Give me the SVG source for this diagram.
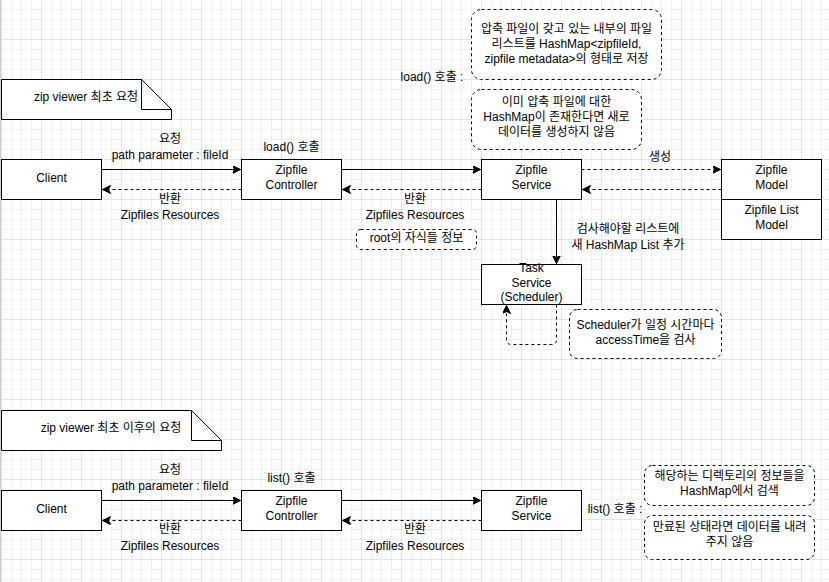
<svg xmlns="http://www.w3.org/2000/svg" width="829" height="582" viewBox="0 0 829 582">
<style>
text{font-family:"Liberation Sans","Noto Sans CJK KR",sans-serif;font-size:12px;fill:#000;text-anchor:middle}
.box{fill:#fff;stroke:#000;stroke-width:1}
.note{fill:#fff;stroke:#000;stroke-width:1;stroke-dasharray:3 3}
.line{fill:none;stroke:#000;stroke-width:1}
.dash{fill:none;stroke:#000;stroke-width:1;stroke-dasharray:3 3}
</style>
<defs>
<pattern id="grid" patternUnits="userSpaceOnUse" x="1" y="-1" width="40" height="40">
<path d="M10.5,0V40M20.5,0V40M30.5,0V40M0,10.5H40M0,20.5H40M0,30.5H40" stroke="#f1f1f1" stroke-width="1" fill="none"/>
<path d="M0.5,0V40M0,0.5H40" stroke="#e4e4e4" stroke-width="1" fill="none"/>
</pattern>
<marker id="arr" markerUnits="userSpaceOnUse" markerWidth="12" markerHeight="12" refX="8" refY="4" orient="auto">
<path d="M0,0L8,4L0,8L2,4Z" fill="#000" stroke="#000" stroke-width="1"/>
</marker>
</defs>
<rect width="829" height="582" fill="#fff"/>
<rect width="829" height="582" fill="url(#grid)"/>
<line x1="0.5" y1="0" x2="0.5" y2="582" stroke="#cfcfcf"/>

<g id="connectors">
<path class="line" d="M101.5,169.5H240.5" marker-end="url(#arr)"/>
<path class="dash" d="M241.5,189.5H102.5" marker-end="url(#arr)"/>
<path class="line" d="M341.5,169.5H480.5" marker-end="url(#arr)"/>
<path class="dash" d="M481.5,189.5H342.5" marker-end="url(#arr)"/>
<path class="dash" d="M581.5,169.5H720.5" marker-end="url(#arr)"/>
<path class="dash" d="M721.5,189.5H582.5" marker-end="url(#arr)"/>
<path class="line" d="M556.5,199.5V263.5" marker-end="url(#arr)"/>
<path class="dash" d="M556.5,304.5V339.5Q556.5,344.5 551.5,344.5H511.5Q506.5,344.5 506.5,339.5V305.5" marker-end="url(#arr)"/>
<path class="line" d="M101.5,500.5H240.5" marker-end="url(#arr)"/>
<path class="dash" d="M241.5,520.5H102.5" marker-end="url(#arr)"/>
<path class="line" d="M341.5,500.5H480.5" marker-end="url(#arr)"/>
<path class="dash" d="M481.5,520.5H342.5" marker-end="url(#arr)"/>
<text x="170" y="142.5">요청</text>
<text x="170" y="158.5">path parameter : fileId</text>
<text x="170" y="202.5">반환</text>
<text x="170" y="218.5">Zipfiles Resources</text>
<text x="415" y="202.5">반환</text>
<text x="415" y="218.5">Zipfiles Resources</text>
<text x="660" y="160.5">생성</text>
<text x="628" y="232.5">검사해야할 리스트에</text>
<text x="628" y="248.5">새 HashMap List 추가</text>
<text x="170" y="473.5">요청</text>
<text x="170" y="489.5">path parameter : fileId</text>
<text x="170" y="532.5">반환</text>
<text x="170" y="549.5">Zipfiles Resources</text>
<text x="415" y="532.5">반환</text>
<text x="415" y="549.5">Zipfiles Resources</text>
</g>

<g id="note-first">
<path class="box" d="M1.5,79.5H141.5L171.5,109.5V119.5H1.5Z"/>
<path class="line" d="M141.5,79.5V109.5H171.5"/>
<text x="86" y="100.5">zip viewer 최초 요청</text>
</g>
<g id="client1">
<rect class="box" x="1.5" y="159.5" width="100" height="40"/>
<text x="51.5" y="182">Client</text>
</g>
<g id="controller1">
<rect class="box" x="241.5" y="159.5" width="100" height="40"/>
<text x="291.5" y="174">Zipfile</text>
<text x="291.5" y="189">Controller</text>
<text x="291.5" y="150.5">load() 호출</text>
</g>
<g id="service1">
<rect class="box" x="481.5" y="159.5" width="100" height="40"/>
<text x="531.5" y="174">Zipfile</text>
<text x="531.5" y="189">Service</text>
</g>
<g id="model">
<rect class="box" x="721.5" y="159.5" width="100" height="80"/>
<line class="line" x1="721.5" y1="199.5" x2="821.5" y2="199.5"/>
<text x="771.5" y="174">Zipfile</text>
<text x="771.5" y="189">Model</text>
<text x="771.5" y="214">Zipfile List</text>
<text x="771.5" y="229">Model</text>
</g>
<g id="load-label">
<text x="432" y="81">load() 호출 :</text>
</g>
<g id="note-store">
<rect class="note" x="471.5" y="9.5" width="190" height="70" rx="10" ry="10"/>
<text x="566.5" y="32.5">압축 파일이 갖고 있는 내부의 파일</text>
<text x="566.5" y="47.5">리스트를 HashMap&lt;zipfileId,</text>
<text x="566.5" y="62.5">zipfile metadata&gt;의 형태로 저장</text>
</g>
<g id="note-exists">
<rect class="note" x="471.5" y="89.5" width="170" height="60" rx="10" ry="10"/>
<text x="556.5" y="106">이미 압축 파일에 대한</text>
<text x="556.5" y="121">HashMap이 존재한다면 새로</text>
<text x="556.5" y="136">데이터를 생성하지 않음</text>
</g>
<g id="note-root">
<rect class="note" x="356.5" y="229.5" width="120" height="20" rx="4" ry="4"/>
<text x="416.5" y="242">root의 자식들 정보</text>
</g>
<g id="task">
<rect class="box" x="481.5" y="264.5" width="100" height="40"/>
<text x="531.5" y="271.5">Task</text>
<text x="531.5" y="286.5">Service</text>
<text x="531.5" y="300.5">(Scheduler)</text>
</g>
<g id="note-scheduler">
<rect class="note" x="569.5" y="309.5" width="152" height="49" rx="8" ry="8"/>
<text x="645.5" y="328.5">Scheduler가 일정 시간마다</text>
<text x="645.5" y="343.5">accessTime을 검사</text>
</g>

<g id="note-second">
<path class="box" d="M1.5,410.5H191.5L221.5,440.5V450.5H1.5Z"/>
<path class="line" d="M191.5,410.5V440.5H221.5"/>
<text x="111" y="432">zip viewer 최초 이후의 요청</text>
</g>
<g id="client2">
<rect class="box" x="1.5" y="490.5" width="100" height="40"/>
<text x="51.5" y="513">Client</text>
</g>
<g id="controller2">
<rect class="box" x="241.5" y="490.5" width="100" height="40"/>
<text x="291.5" y="505">Zipfile</text>
<text x="291.5" y="520">Controller</text>
<text x="291.5" y="481.5">list() 호출</text>
</g>
<g id="service2">
<rect class="box" x="481.5" y="490.5" width="100" height="40"/>
<text x="531.5" y="505">Zipfile</text>
<text x="531.5" y="520">Service</text>
</g>
<g id="list-label">
<text x="615" y="512.5">list() 호출 :</text>
</g>
<g id="note-search">
<rect class="note" x="644.5" y="465.5" width="170" height="40" rx="8" ry="8"/>
<text x="729.5" y="479.5">해당하는 디렉토리의 정보들을</text>
<text x="729.5" y="494.5">HashMap에서 검색</text>
</g>
<g id="note-expired">
<rect class="note" x="644.5" y="515.5" width="170" height="44" rx="8" ry="8"/>
<text x="729.5" y="531">만료된 상태라면 데이터를 내려</text>
<text x="729.5" y="546">주지 않음</text>
</g>
</svg>
